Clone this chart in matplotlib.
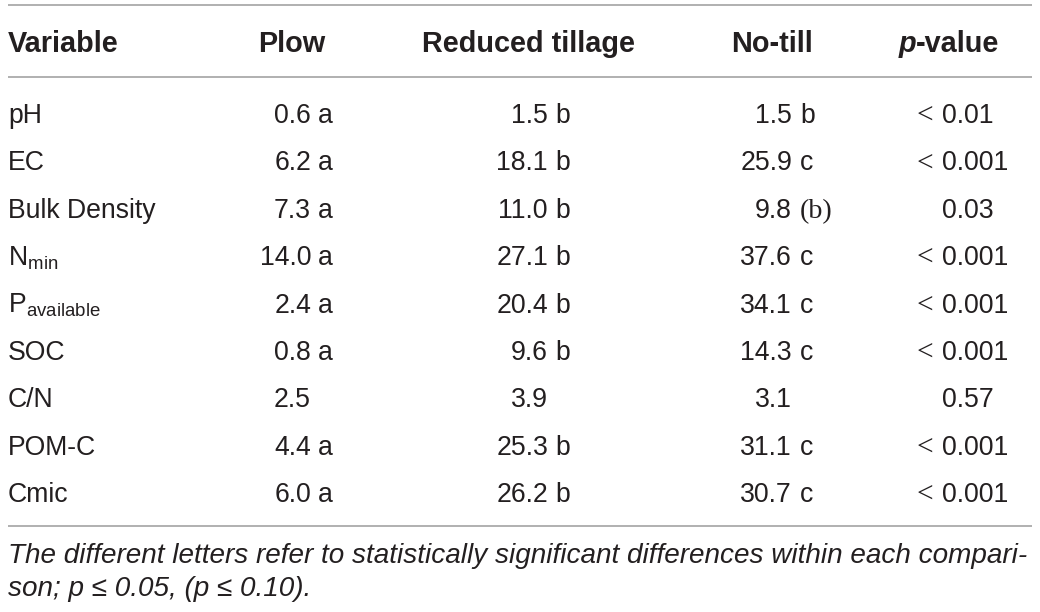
import matplotlib
matplotlib.use("Agg")
import matplotlib.pyplot as plt

plt.rcParams['font.family'] = ['Liberation Sans', 'DejaVu Sans']
plt.rcParams['mathtext.fontset'] = 'custom'
plt.rcParams['mathtext.rm'] = 'Liberation Sans'
plt.rcParams['mathtext.it'] = 'Liberation Sans:italic'
plt.rcParams['mathtext.bf'] = 'Liberation Sans:bold'

# Tabellinnhold
headers = ["Variable", "Plow", "Reduced tillage", "No-till", "p-value"]
variables = ["pH", "EC", "Bulk Density", r"$\mathrm{N_{min}}$", r"$\mathrm{P_{available}}$",
             "SOC", "C/N", "POM-C", "Cmic"]
plow_vals = [0.6, 6.2, 7.3, 14.0, 2.4, 0.8, 2.5, 4.4, 6.0]
plow_sig = ["a", "a", "a", "a", "a", "a", "", "a", "a"]
red_vals = [1.5, 18.1, 11.0, 27.1, 20.4, 9.6, 3.9, 25.3, 26.2]
red_sig = ["b", "b", "b", "b", "b", "b", "", "b", "b"]
nt_vals = [1.5, 25.9, 9.8, 37.6, 34.1, 14.3, 3.1, 31.1, 30.7]
nt_sig = ["b", "c", "(b)", "c", "c", "c", "", "c", "c"]
p_prefix = ["<", "<", "", "<", "<", "<", "", "<", "<"]
p_num = ["0.01", "0.001", "0.03", "0.001", "0.001", "0.001", "0.57", "0.001", "0.001"]
note1 = "The different letters refer to statistically significant differences within each compari-"
note2 = "son; p \u2264 0.05, (p \u2264 0.10)."

txt = "#231f20"
linje = "#a3a3a3"
fs = 19.2   # brødtekst
hfs = 20.8  # overskrift
nfs = 20.1  # fotnote

fig = plt.figure(figsize=(10.4, 6.12), dpi=100)
ax = fig.add_axes([0, 0, 1, 1])
ax.set_xlim(0, 1040)
ax.set_ylim(612, 0)
ax.axis("off")

# Horisontale linjer
for y in [5, 77, 526]:
    ax.plot([8, 1032], [y, y], color=linje, lw=1.2, solid_capstyle="butt")

# Overskrift
hy = 52
ax.text(8, hy, headers[0], fontsize=hfs, fontweight="bold", color=txt, va="baseline")
ax.text(292, hy, headers[1], fontsize=hfs, fontweight="bold", color=txt, va="baseline", ha="center")
ax.text(529, hy, headers[2], fontsize=hfs, fontweight="bold", color=txt, va="baseline", ha="center")
ax.text(772, hy, headers[3], fontsize=hfs, fontweight="bold", color=txt, va="baseline", ha="center")
ax.text(916, hy, "p", fontsize=hfs, fontweight="bold", style="italic", color=txt, va="baseline", ha="right")
ax.text(916, hy, "-value", fontsize=hfs, fontweight="bold", color=txt, va="baseline", ha="left")

# Rader
row0 = 123
dy = 47.4
for i in range(len(variables)):
    y = row0 + i * dy
    ax.text(8, y, variables[i], fontsize=fs, color=txt, va="baseline")
    ax.text(311, y, f"{plow_vals[i]:.1f}", fontsize=fs, color=txt, va="baseline", ha="right")
    ax.text(318, y, plow_sig[i], fontsize=fs, color=txt, va="baseline")
    ax.text(548, y, f"{red_vals[i]:.1f}", fontsize=fs, color=txt, va="baseline", ha="right")
    ax.text(555, y, red_sig[i], fontsize=fs, color=txt, va="baseline")
    ax.text(792, y, f"{nt_vals[i]:.1f}", fontsize=fs, color=txt, va="baseline", ha="right")
    if nt_sig[i].startswith("("):
        ax.text(800, y, nt_sig[i], fontsize=fs + 1, color=txt, va="baseline",
                family="Liberation Serif")
    else:
        ax.text(800, y, nt_sig[i], fontsize=fs, color=txt, va="baseline")
    if p_prefix[i]:
        ax.text(933, y, p_prefix[i], fontsize=fs + 2, color=txt, va="baseline", ha="right",
                family="Liberation Serif")
    ax.text(942, y, p_num[i], fontsize=fs, color=txt, va="baseline")

# Fotnote
ax.text(8, 563, note1, fontsize=nfs, style="italic", color=txt, va="baseline")
ax.text(8, 596, note2, fontsize=nfs, style="italic", color=txt, va="baseline")

fig.savefig("out.png", dpi=100, facecolor="white")
